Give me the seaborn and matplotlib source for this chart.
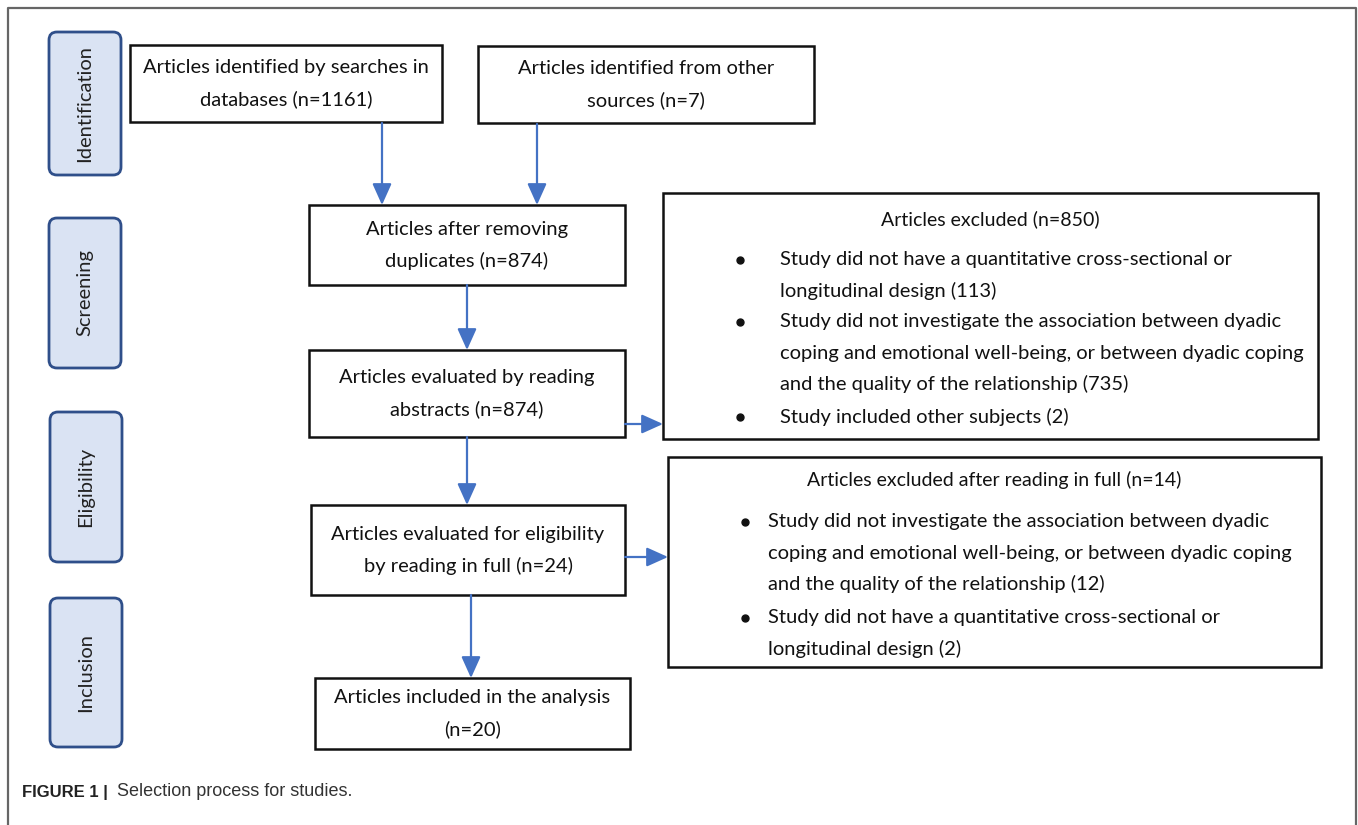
import matplotlib
matplotlib.use('Agg')
import matplotlib.pyplot as plt
from matplotlib.patches import FancyBboxPatch, Rectangle
import seaborn as sns

# Data
STAGES = ['Identification', 'Screening', 'Eligibility', 'Inclusion']
RECORD_TEXT = [
    'Articles identified by searches in\ndatabases (n={})',
    'Articles identified from other\nsources (n={})',
    'Articles after removing\nduplicates (n={})',
    'Articles evaluated by reading\nabstracts (n={})',
    'Articles evaluated for eligibility\nby reading in full (n={})',
    'Articles included in the analysis\n(n={})',
]
RECORD_COUNTS = [1161, 7, 874, 874, 24, 20]

EXCL1_TITLE = 'Articles excluded (n={})'
EXCL1_TOTAL = 850
EXCL1_REASONS = [
    'Study did not have a quantitative cross-sectional or\nlongitudinal design ({})',
    'Study did not investigate the association between dyadic\ncoping and emotional well-being, or between dyadic coping\nand the quality of the relationship ({})',
    'Study included other subjects ({})',
]
EXCL1_COUNTS = [113, 735, 2]

EXCL2_TITLE = 'Articles excluded after reading in full (n={})'
EXCL2_TOTAL = 14
EXCL2_REASONS = [
    'Study did not investigate the association between dyadic\ncoping and emotional well-being, or between dyadic coping\nand the quality of the relationship ({})',
    'Study did not have a quantitative cross-sectional or\nlongitudinal design ({})',
]
EXCL2_COUNTS = [12, 2]

CAPTION_BOLD = 'FIGURE 1 |'
CAPTION = 'Selection process for studies.'

# Layout (pixels, y down)
STAGE_BOXES = [(49, 32, 72, 143), (49, 218, 72, 150), (50, 412, 72, 150), (50, 598, 72, 149)]
RECORD_BOXES = [(130, 45, 312, 77), (478, 46, 336, 77), (309, 205, 316, 80),
                (309, 350, 316, 87), (311, 505, 314, 90), (315, 678, 315, 71)]
EXCL1_BOX = (663, 193, 655, 246)
EXCL2_BOX = (668, 457, 653, 210)
LINE_H = 31

BLUE = '#4472c4'
INK = '#111111'
FONT = 'Lato'
FS = 14.5

sns.set_theme(style='white')
plt.rcParams['font.family'] = [FONT, 'DejaVu Sans']

fig = plt.figure(figsize=(13.58, 8.25), dpi=100)
ax = fig.add_axes([0, 0, 1, 1])
ax.set_xlim(0, 1358)
ax.set_ylim(825, 0)
ax.axis('off')

# outer frame (top, left, right)
ax.plot([8, 8, 1356, 1356], [825, 8, 8, 825], color='#666666', lw=1.6)

# stage labels
for (x, y, w, h), name in zip(STAGE_BOXES, STAGES):
    ax.add_patch(FancyBboxPatch((x + 8, y + 8), w - 16, h - 16,
                                boxstyle='round,pad=8', fc='#dae3f3', ec='#2f4f8a', lw=2))
    ax.text(x + w / 2, y + h / 2, name, rotation=90, ha='center', va='center',
            fontsize=14.5, color='#222222')

# record boxes
for (x, y, w, h), txt, n in zip(RECORD_BOXES, RECORD_TEXT, RECORD_COUNTS):
    ax.add_patch(Rectangle((x, y), w, h, fc='white', ec=INK, lw=1.8))
    lines = txt.format(n).split('\n')
    y0 = y + h / 2 - (len(lines) - 1) * LINE_H / 2
    for i, ln in enumerate(lines):
        ax.text(x + w / 2, y0 + i * LINE_H, ln, ha='center', va='center',
                fontsize=FS, color=INK)


def excl_box(box, title, total, reasons, counts, title_y, bullet_x, text_x, line_ys):
    x, y, w, h = box
    ax.add_patch(Rectangle((x, y), w, h, fc='white', ec=INK, lw=1.8))
    ax.text(x + w / 2, title_y, title.format(total), ha='center', va='center',
            fontsize=FS - 0.5, color=INK)
    for r, c, ly in zip(reasons, counts, line_ys):
        ax.plot(bullet_x, ly, 'o', color=INK, ms=5)
        for i, ln in enumerate(r.format(c).split('\n')):
            ax.text(text_x, ly + i * LINE_H, ln, ha='left', va='center',
                    fontsize=FS, color=INK)


excl_box(EXCL1_BOX, EXCL1_TITLE, EXCL1_TOTAL, EXCL1_REASONS, EXCL1_COUNTS,
         219, 740, 780, [260, 322, 417])
excl_box(EXCL2_BOX, EXCL2_TITLE, EXCL2_TOTAL, EXCL2_REASONS, EXCL2_COUNTS,
         480, 745, 768, [522, 618])

# arrows
arrows = [((382, 123), (382, 205)), ((537, 124), (537, 205)),
          ((467, 285), (467, 350)), ((467, 437), (467, 505)),
          ((471, 595), (471, 678)), ((625, 424), (663, 424)),
          ((625, 557), (668, 557))]
for (x0, y0), (x1, y1) in arrows:
    ax.annotate('', xy=(x1, y1), xytext=(x0, y0),
                arrowprops=dict(arrowstyle='-|>,head_length=1.0,head_width=0.45',
                                mutation_scale=13, color=BLUE, lw=1.6,
                                shrinkA=0, shrinkB=0))

# caption
ax.text(22, 792, CAPTION_BOLD, ha='left', va='center', fontsize=12,
        fontweight='bold', family='Liberation Sans', color='#222222')
ax.text(117, 792, CAPTION, ha='left', va='center',
        fontsize=13, family='Liberation Sans', color='#333333')

fig.savefig('out.png', dpi=100)
